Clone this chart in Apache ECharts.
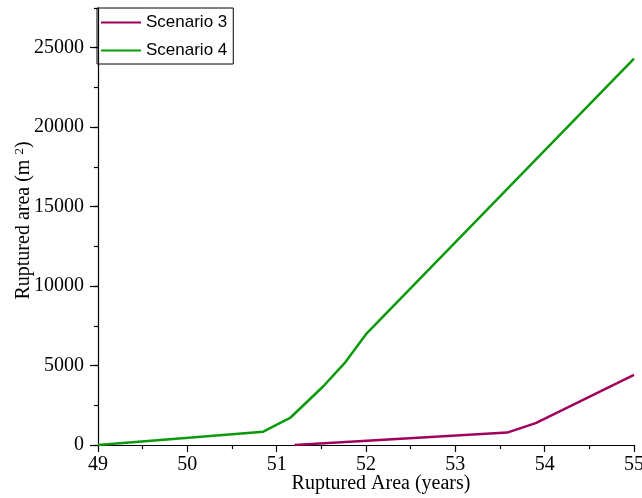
<!DOCTYPE html>
<html>
<head>
<meta charset="utf-8">
<script src="https://cdn.jsdelivr.net/npm/echarts@6/dist/echarts.min.js"></script>
<style>
html,body{margin:0;padding:0;background:#fff;}
#c{width:642px;height:498px;}
</style>
</head>
<body>
<div id="c"></div>
<script>
// Data
var seriesNames = ['Scenario 3', 'Scenario 4'];
var s3Years = [51.2, 53.58, 53.9, 55];
var s3Area  = [0, 780, 1380, 4420];
var s4Years = [49, 50.85, 51.15, 51.52, 51.77, 52.0, 55];
var s4Area  = [0, 840, 1700, 3680, 5220, 6970, 24320];
var yMajorTicks = [0, 5000, 10000, 15000, 20000, 25000];
var xTicks = [49, 50, 51, 52, 53, 54, 55];

function pairs(xs, ys){ return xs.map(function(x,i){ return [x, ys[i]]; }); }

var serif = '"Liberation Serif", "Times New Roman", serif';
var sans = '"Liberation Sans", Arial, sans-serif';

var chart = echarts.init(document.getElementById('c'), null, {renderer:'canvas'});
chart.setOption({
  animation:false,
  backgroundColor:'#fff',
  grid:{left:98, right:8, top:8, bottom:53, containLabel:false, outerBoundsMode:'none'},
  legend:{
    left:97, top:8, orient:'vertical',
    data:seriesNames,
    borderColor:'#000', borderWidth:1, borderRadius:0,
    padding:[6,6,5,3],
    itemWidth:40, itemHeight:12, itemGap:11,
    textStyle:{fontFamily:sans, fontSize:17, color:'#000', padding:[0,0,0,0]},
    itemStyle:{opacity:0}
  },
  xAxis:{
    type:'value', min:xTicks[0], max:xTicks[xTicks.length-1], interval:1,
    name:'Ruptured Area (years)', nameLocation:'middle', nameGap:29, nameMoveOverlap:false,
    nameTextStyle:{fontFamily:serif, fontSize:20, color:'#000', padding:[0,0,0,30]},
    axisLine:{show:true, lineStyle:{color:'#000', width:1.2}},
    axisTick:{show:true, inside:false, length:7, lineStyle:{color:'#000', width:1.2}},
    minorTick:{show:true, splitNumber:2, length:4, lineStyle:{color:'#000', width:1.2}},
    axisLabel:{fontFamily:serif, fontSize:20, color:'#000', margin:10, formatter:function(v){return String(v);}},
    splitLine:{show:false}
  },
  yAxis:[{
    type:'value', min:0, max:27500, interval:2500, position:'left',
    name:'Ruptured area (m {sup|2})', nameLocation:'middle', nameGap:64, nameRotate:90, nameMoveOverlap:false,
    nameTextStyle:{fontFamily:serif, fontSize:20, color:'#000', padding:[0,0,0,12],
      rich:{sup:{fontFamily:serif, fontSize:13, color:'#000', verticalAlign:'top', padding:[0,0,8,0]}}},
    axisLine:{show:true, onZero:false, lineStyle:{color:'#000', width:1.2}},
    axisTick:{show:true, inside:false, length:4, lineStyle:{color:'#000', width:1.2}},
    axisLabel:{fontFamily:serif, fontSize:20, color:'#000', margin:14,
      customValues:yMajorTicks, formatter:function(v){return String(v);}},
    splitLine:{show:false}
  },{
    type:'value', min:0, max:27500, interval:5000, position:'left', offset:0,
    axisLine:{show:false},
    axisTick:{show:true, inside:false, length:8, customValues:yMajorTicks, lineStyle:{color:'#000', width:1.2}},
    axisLabel:{show:false},
    splitLine:{show:false}
  }],
  series:[{
    name:seriesNames[0], type:'line', data:pairs(s3Years, s3Area),
    symbol:'none', lineStyle:{color:'#a0005c', width:2.5}, itemStyle:{color:'#a0005c'}, z:3
  },{
    name:seriesNames[1], type:'line', data:pairs(s4Years, s4Area),
    symbol:'none', lineStyle:{color:'#0b9a0b', width:2.5}, itemStyle:{color:'#0b9a0b'}, z:3
  }]
});
</script>
</body>
</html>
